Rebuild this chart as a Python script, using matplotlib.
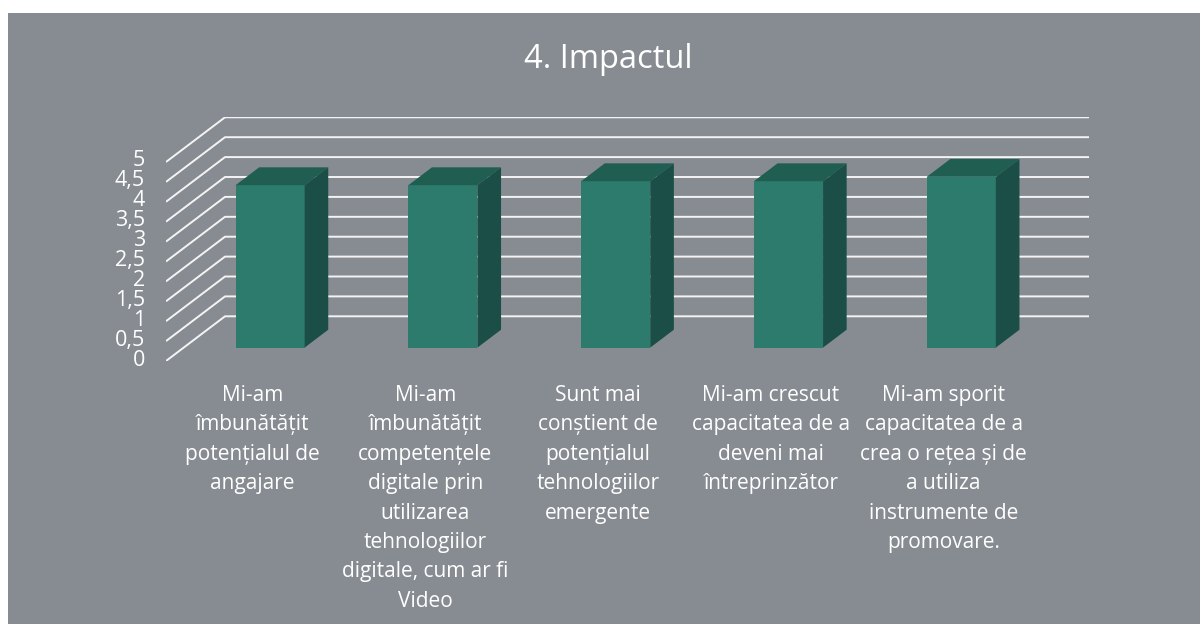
import matplotlib
matplotlib.use('Agg')
import matplotlib.pyplot as plt
import matplotlib.patches as ptc


# Chart data.
categories = [
	"Mi-am\nîmbunătățit\npotențialul de\nangajare",
	"Mi-am\nîmbunătățit\ncompetențele\ndigitale prin\nutilizarea\ntehnologiilor\ndigitale, cum ar fi\nVideo",
	"Sunt mai\nconștient de\npotențialul\ntehnologiilor\nemergente",
	"Mi-am crescut\ncapacitatea de a\ndeveni mai\nîntreprinzător",
	"Mi-am sporit\ncapacitatea de a\ncrea o rețea și de\na utiliza\ninstrumente de\npromovare.",
]
values = [4.08, 4.08, 4.18, 4.18, 4.29]
yticks = [0, 0.5, 1, 1.5, 2, 2.5, 3, 3.5, 4, 4.5, 5]
ytick_labels = ["0", "0,5", "1", "1,5", "2", "2,5", "3", "3,5", "4", "4,5", "5"]
title = "4. Impactul"

BG = "#878c92"
FRONT = "#2d7b6c"
TOP = "#1f5e51"
SIDE = "#1b4e46"
FONT = "Open Sans"

# Oblique depth offset (in data units) for the fake 3D look.
DX = 0.3414
DY = 1.123
D0, D1 = 0.3, 0.7
W = 0.4

fig = plt.figure(figsize=(12, 6.24), dpi=100, facecolor="white")
fig.patches.append(ptc.Rectangle((8 / 1200, 0), 1, 1 - 13 / 624,
	transform=fig.transFigure, facecolor=BG, edgecolor="none", zorder=-10))

ax = fig.add_axes([166 / 1200, 1 - 361 / 624, 923 / 1200, 243.7 / 624])
ax.set_xlim(0, len(categories) + DX)
ax.set_ylim(0, 5 + DY)
ax.axis("off")
ax.patch.set_visible(False)

# Grid: diagonal on the side wall, then flat along the back wall.
for v in yticks:
	ax.plot([0, DX, len(categories) + DX], [v, v + DY, v + DY],
		color="#f4f4f4", lw=1.4, zorder=1, solid_capstyle="butt")

for v, lab in zip(yticks, ytick_labels):
	ax.annotate(lab, (0, v), xytext=(-21, 1), textcoords="offset pixels",
		ha="right", va="center", fontsize=15.5, color="white", family=FONT)

# Bars.
for i, v in enumerate(values):
	x0 = i + 0.5 - W / 2
	x1 = x0 + W
	fx0, fx1 = x0 + D0 * DX, x1 + D0 * DX
	fy = D0 * DY
	ddx, ddy = (D1 - D0) * DX, (D1 - D0) * DY
	ax.fill([fx0, fx1, fx1, fx0], [fy, fy, fy + v, fy + v], color=FRONT, lw=0, zorder=3)
	ax.fill([fx0, fx1, fx1 + ddx, fx0 + ddx], [fy + v, fy + v, fy + v + ddy, fy + v + ddy],
		color=TOP, lw=0, zorder=3)
	ax.fill([fx1, fx1 + ddx, fx1 + ddx, fx1], [fy, fy + ddy, fy + v + ddy, fy + v],
		color=SIDE, lw=0, zorder=3)

for i, lab in enumerate(categories):
	ax.annotate(lab, (i + 0.5, 0), xytext=(0, -24), textcoords="offset pixels",
		ha="center", va="top", multialignment="center", fontsize=15,
		linespacing=1.525, color="white", family=FONT, annotation_clip=False)

fig.text(608 / 1200, 1 - 68 / 624, title, ha="center", va="baseline",
	fontsize=23.5, color="white", family=FONT)

fig.savefig("out.png", dpi=100, facecolor="white")
